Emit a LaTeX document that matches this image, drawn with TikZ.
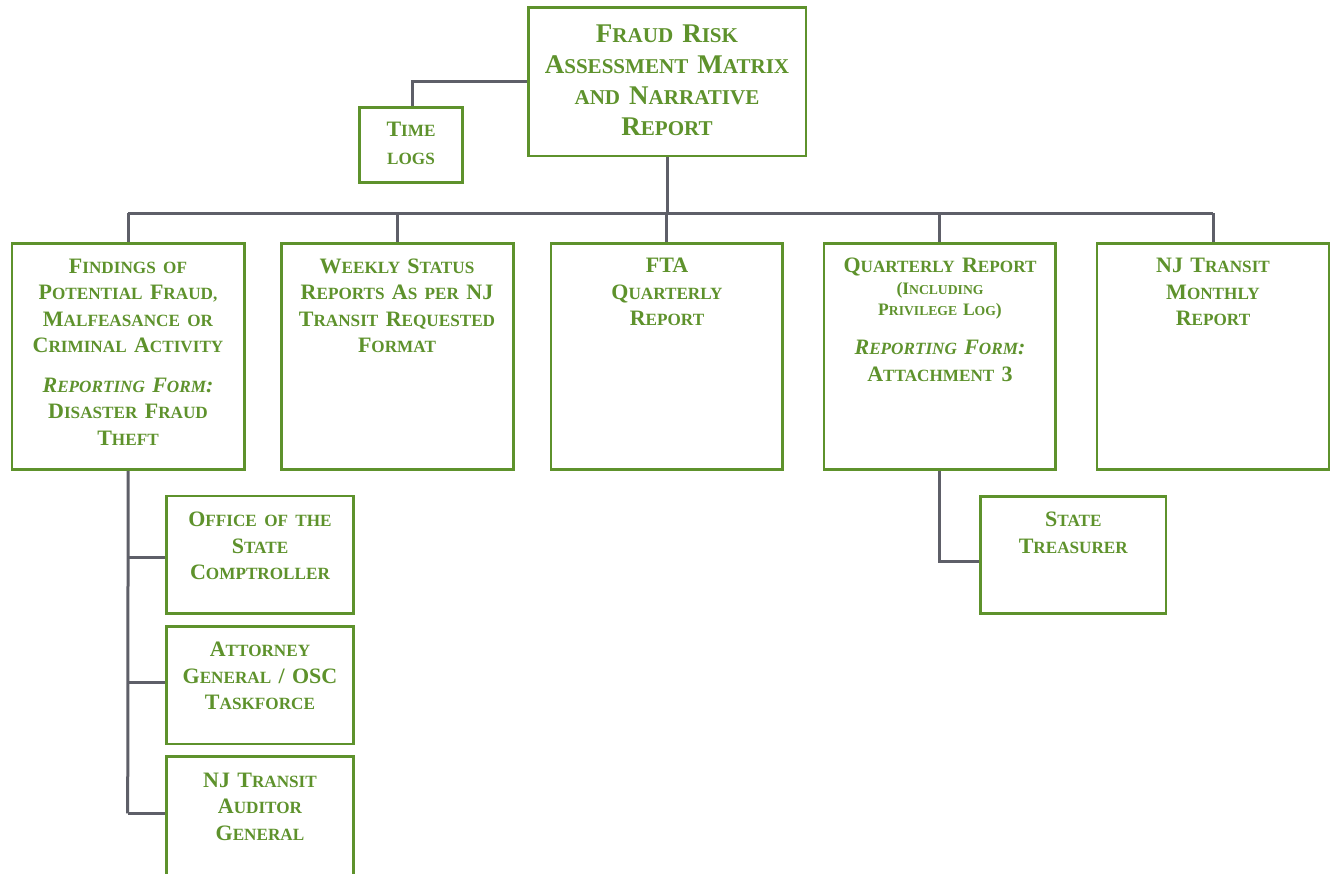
\documentclass[tikz,border=0pt]{standalone}
\usepackage{fontspec}
\setmainfont{Liberation Serif}
\newfontfamily\lcfont[Scale=0.78]{Liberation Serif}
\newcommand\lc[1]{{\lcfont\MakeUppercase{#1}}}
\definecolor{grn}{RGB}{94,146,44}
\definecolor{gry}{RGB}{94,95,104}
\tikzset{
  box/.style={draw=grn, line width=2.6pt, inner sep=0pt},
  txt/.style={text=grn, anchor=base, align=center, text width=#1, inner sep=0pt,
    font=\bfseries\fontsize{22}{26.4}\selectfont},
  txt/.default=225pt,
  conn/.style={draw=gry, line width=3pt},
}
\newcommand\mybox[5]{\node[box, minimum width={#4pt-#2pt}, minimum height={#5pt-#3pt}] (#1) at ({(#2+#4)/2},{(#3+#5)/2}) {};}
\begin{document}
\begin{tikzpicture}[x=1pt,y=-1pt]
\useasboundingbox (0,0) rectangle (1335,873);
\clip (0,0) rectangle (1335,873);
\fill[white] (0,0) rectangle (1335,873);
% boxes
\mybox{main}{528.3}{7.3}{806}{156}
\mybox{tl}{359.3}{107.7}{462.7}{182.7}
\mybox{b1}{12}{243.3}{244.3}{469.5}
\mybox{b2}{281.7}{243.3}{513.3}{469.5}
\mybox{b3}{551}{243.3}{782.5}{469.5}
\mybox{b4}{824}{243.3}{1055.7}{469.5}
\mybox{b5}{1097}{243.3}{1329}{469.5}
\mybox{off}{166.7}{496}{353.3}{613.3}
\mybox{att}{166.7}{626.7}{353.3}{744}
\mybox{aud}{166.7}{756.7}{353.3}{900}
\mybox{st}{980.7}{496.7}{1166}{613.3}
% connectors
\coordinate (bar) at (667,213);
\coordinate (tlj) at (412.7,81.7);
\coordinate (audj) at (127.7,813.3);
\coordinate (offj) at (127.7,557.3);
\coordinate (attj) at (127.7,682.3);
\coordinate (stj) at (940,561);
\draw[conn] (main.south) -- (main.south |- bar);
\draw[conn] (b1.north |- bar) -- (b5.north |- bar);
\foreach \b in {b1,b2,b3,b4,b5}{\draw[conn] (\b.north) -- (\b.north |- bar);}
\draw[conn] (tl.north -| tlj) |- (main.west |- tlj);
\draw[conn] (b1.south) -- (audj);
\draw[conn] (offj) -- (off.west |- offj);
\draw[conn] (attj) -- (att.west |- attj);
\draw[conn] (audj) -- (aud.west |- audj);
\draw[conn] (b4.south) |- (st.west |- stj);
% texts
\node[txt=270pt, font=\bfseries\fontsize{27}{31.3}\selectfont] (tmain) at (667,42)
  {F\lc{raud} R\lc{isk}\\ A\lc{ssessment} M\lc{atrix}\\ \lc{and} N\lc{arrative}\\ R\lc{eport}};
\node[txt=100pt, font=\bfseries\fontsize{22}{27.3}\selectfont] (ttl) at (411,136.7) {T\lc{ime}\\ \lc{logs}};
\node[txt] (t1a) at (128,273.3) {F\lc{indings of}\\ P\lc{otential} F\lc{raud,}\\ M\lc{alfeasance or}\\ C\lc{riminal} A\lc{ctivity}};
\node[txt] (t1b) at (128,392.3) {{\itshape R\lc{eporting} F\lc{orm}:}\\ D\lc{isaster} F\lc{raud}\\ T\lc{heft}};
\node[txt] (t2) at (397,273.3) {W\lc{eekly} S\lc{tatus}\\ R\lc{eports} A\lc{s per} NJ\\ T\lc{ransit} R\lc{equested}\\ F\lc{ormat}};
\node[txt] (t3) at (667,272.7) {FTA\\ Q\lc{uarterly}\\ R\lc{eport}};
\node[txt] (t4a) at (940,272.7) {Q\lc{uarterly} R\lc{eport}};
\node[txt, font=\bfseries\fontsize{17.5}{21.4}\selectfont] (t4b) at (940,294.3) {(I\lc{ncluding}\\ P\lc{rivilege} L\lc{og})};
\node[txt, font=\bfseries\fontsize{22}{27.7}\selectfont] (t4c) at (940,354) {{\itshape R\lc{eporting} F\lc{orm}:}\\ A\lc{ttachment} 3};
\node[txt] (t5) at (1213,272.7) {NJ T\lc{ransit}\\ M\lc{onthly}\\ R\lc{eport}};
\node[txt=180pt] (toff) at (260,526.7) {O\lc{ffice of the}\\ S\lc{tate}\\ C\lc{omptroller}};
\node[txt=180pt] (tatt) at (260,656.7) {A\lc{ttorney}\\ G\lc{eneral} / OSC\\ T\lc{askforce}};
\node[txt=180pt] (taud) at (260,787.3) {NJ T\lc{ransit}\\ A\lc{uditor}\\ G\lc{eneral}};
\node[txt=180pt] (tst) at (1073.3,526.7) {S\lc{tate}\\ T\lc{reasurer}};
\end{tikzpicture}
\end{document}
